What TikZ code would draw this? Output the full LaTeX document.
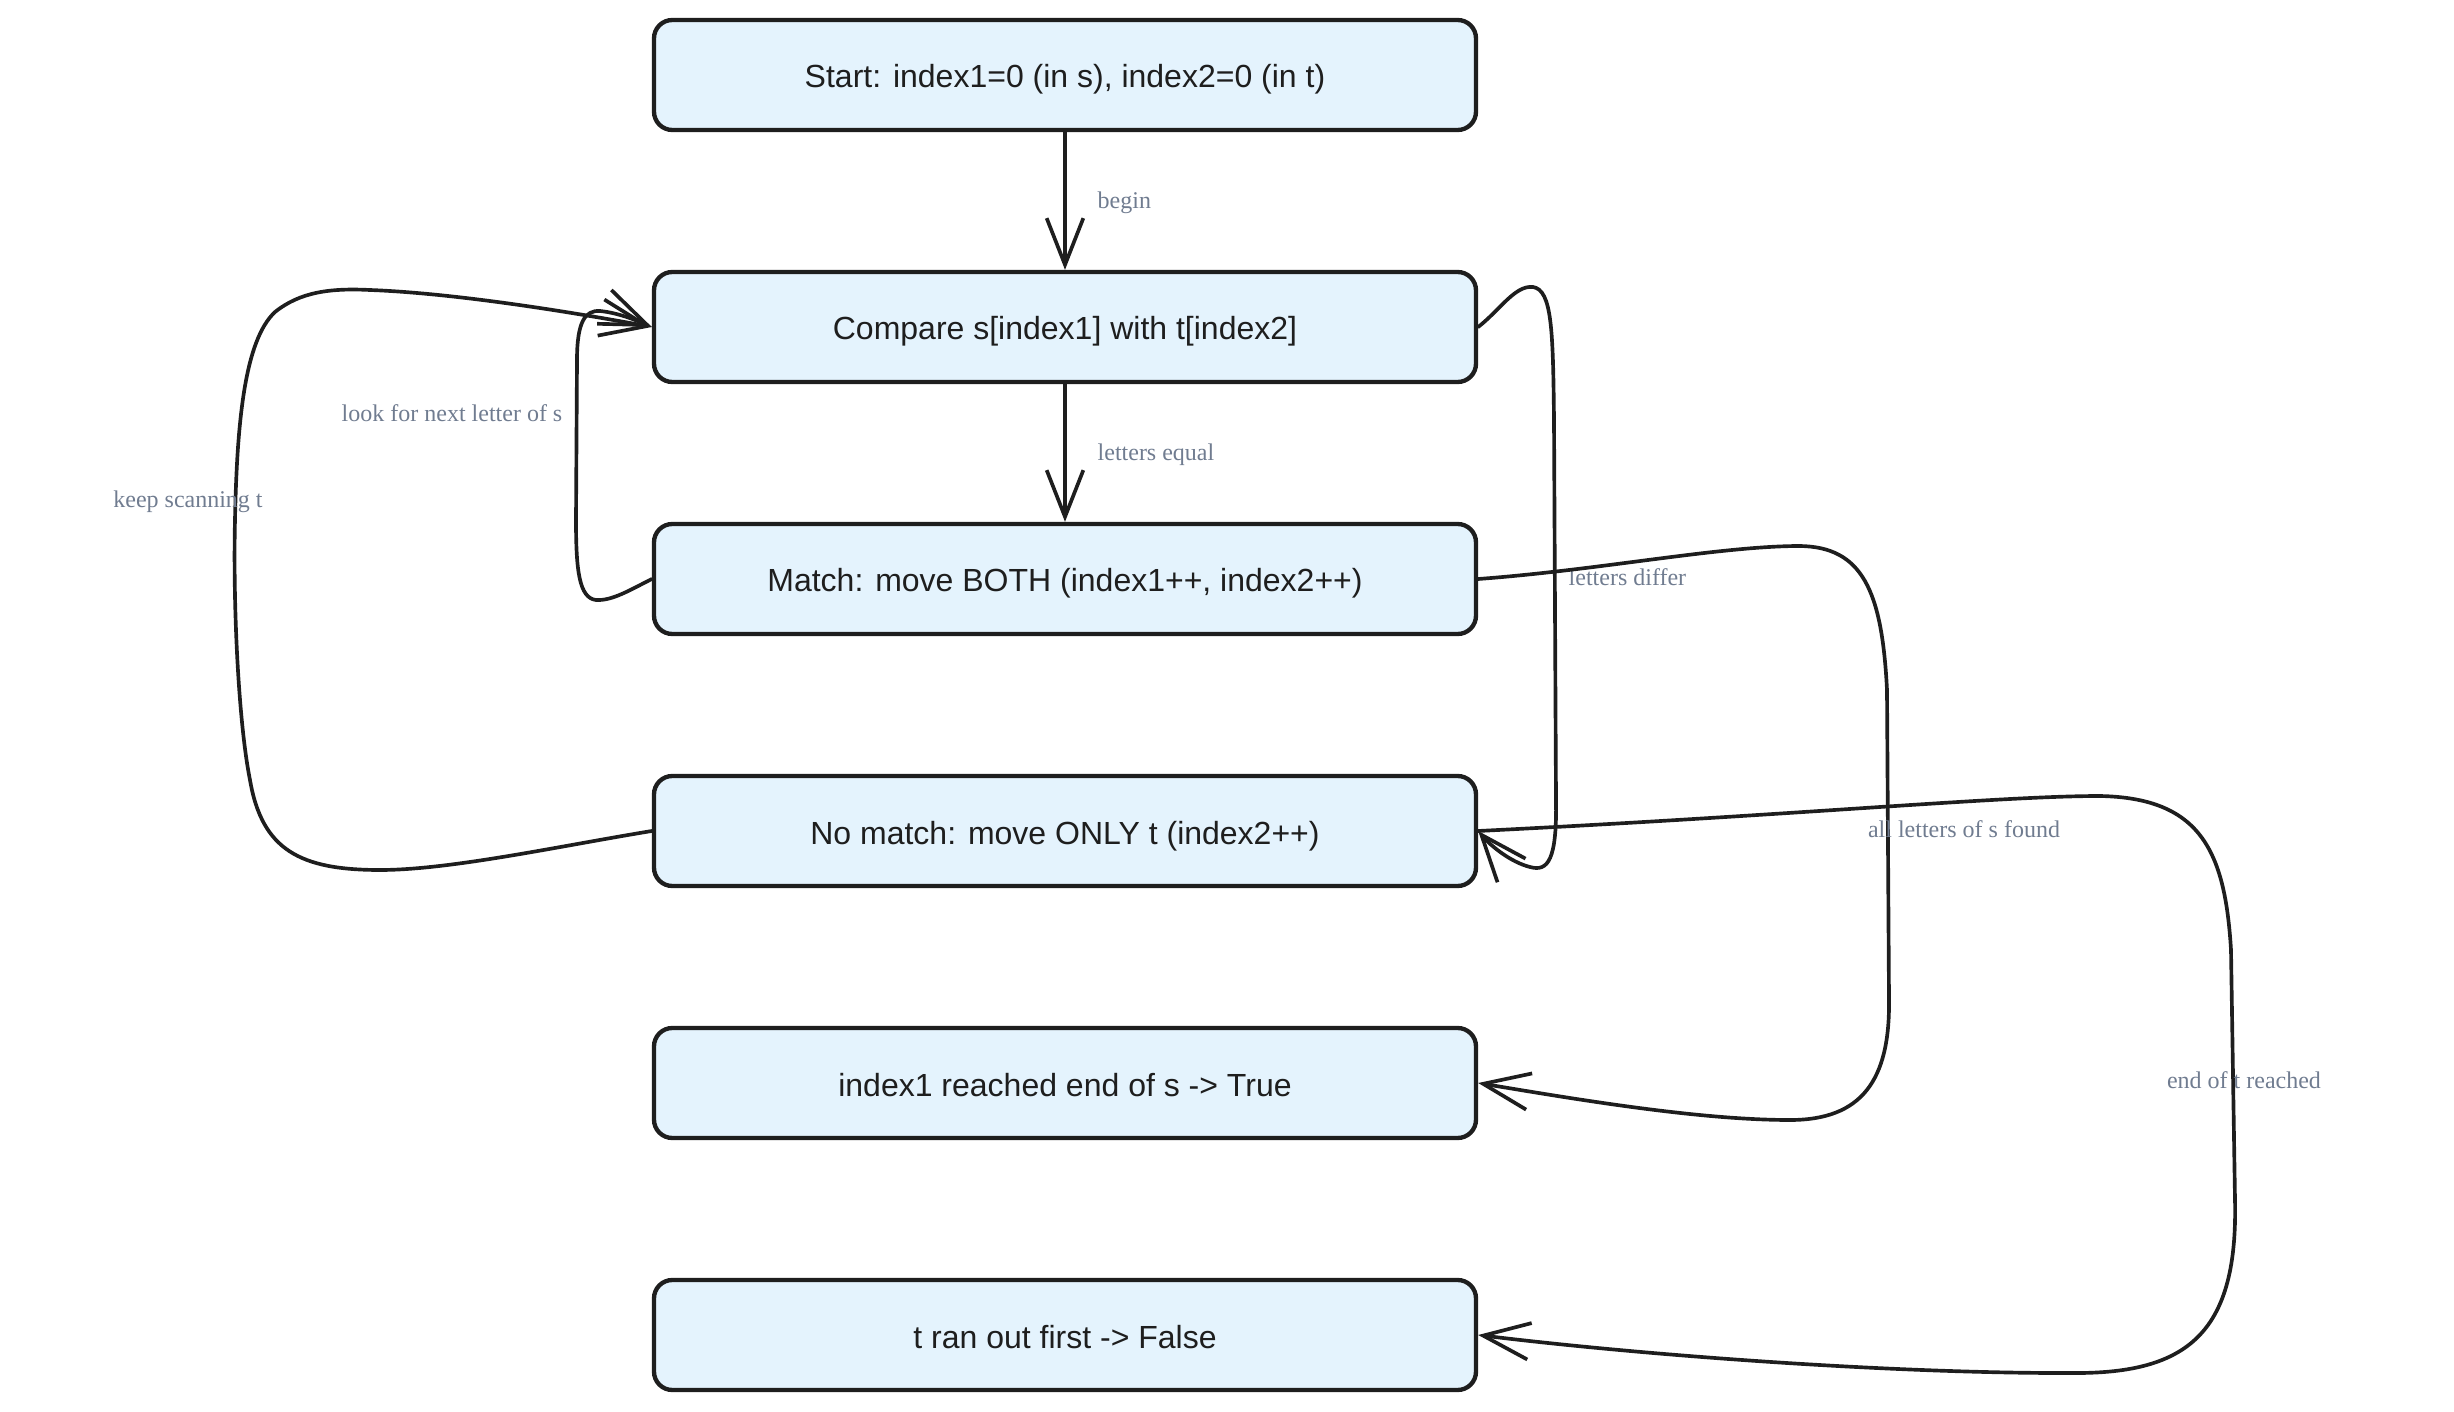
\documentclass[tikz,border=0pt]{standalone}
\usepackage{fontspec}
\setmainfont{Liberation Sans}
\newfontfamily\lblfont{Liberation Serif}
\usetikzlibrary{arrows.meta}
\definecolor{boxfill}{RGB}{228,243,253}
\definecolor{ink}{RGB}{30,30,30}
\definecolor{lblgray}{RGB}{112,124,144}
\tikzset{
  stepbox/.style={draw=ink, fill=boxfill, line width=1.3pt, rounded corners=5.5pt,
    minimum width=246.6pt, minimum height=33pt, inner sep=0pt,
    text height=7.8pt, text depth=0pt,
    font=\fontsize{9.6}{11}\selectfont, text=ink},
  conn/.style={draw=ink, line width=1.1pt, line cap=round, line join=round,
    -{Straight Barb[length=14pt,width=11pt,line width=1.1pt]}},
  lbl/.style={font=\lblfont\fontsize{7.2}{8.5}\selectfont, text=lblgray, inner sep=0pt}
}
\begin{document}
\begin{tikzpicture}[x=0.3pt,y=-0.3pt]
\useasboundingbox (0,0) rectangle (2454,1412);
\node[stepbox] (b1) at (1065,75) {Start: index1=0 (in s), index2=0 (in t)};
\node[stepbox] (b2) at (1065,327) {Compare s[index1] with t[index2]};
\node[stepbox] (b3) at (1065,579) {Match: move BOTH (index1++, index2++)};
\node[stepbox] (b4) at (1065,831) {No match: move ONLY t (index2++)};
\node[stepbox] (b5) at (1065,1083) {index1 reached end of s -> True};
\node[stepbox] (b6) at (1065,1335) {t ran out first -> False};

% begin
\draw[conn] (b1) -- (b2);
\node[lbl, anchor=west] (lbegin) at (1097,203) {begin};
% letters equal
\draw[conn] (b2) -- (b3);
\node[lbl, anchor=west] (lequal) at (1097,455) {letters equal};
% letters differ
\draw[conn] (b2.east) .. controls (1500,310) and (1515,285) .. (1533,287)
  .. controls (1552,290) and (1553,330) .. (1554,420) -- (1556,800)
  .. controls (1557,860) and (1548,872) .. (1530,867)
  .. controls (1510,862) and (1490,845) .. (b4.east);
\node[lbl, anchor=west] (ldiffer) at (1568,577) {letters differ};
% look for next letter of s
\draw[conn] (b3.west) .. controls (630,590) and (612,601) .. (596,600)
  .. controls (579,598) and (576,570) .. (576,520) -- (577,360)
  .. controls (577,322) and (585,310) .. (600,311)
  .. controls (620,313) and (640,322) .. (b2.west);
\node[lbl] (lnext) at (452,413) {look for next letter of s};
% keep scanning t
\draw[conn] (b4.west) .. controls (560,846) and (450,870) .. (380,870)
  .. controls (300,870) and (262,850) .. (250,780)
  .. controls (238,720) and (233,600) .. (235,520)
  .. controls (237,420) and (245,340) .. (275,312)
  .. controls (300,292) and (330,288) .. (370,290)
  .. controls (450,293) and (560,310) .. (b2.west);
\node[lbl] (lkeep) at (188,502) {keep scanning t};
% all letters of s found
\draw[conn] (b3.east) .. controls (1600,570) and (1720,546) .. (1800,546)
  .. controls (1862,547) and (1882,590) .. (1887,690) -- (1889,1000)
  .. controls (1890,1080) and (1862,1120) .. (1790,1120)
  .. controls (1700,1120) and (1580,1100) .. (b5.east);
\node[lbl] (lfound) at (1964,829) {all letters of s found};
% end of t reached
\draw[conn] (b4.east) .. controls (1800,815) and (2000,796) .. (2100,796)
  .. controls (2200,798) and (2225,850) .. (2231,950) -- (2235,1200)
  .. controls (2238,1330) and (2190,1372) .. (2080,1373)
  .. controls (1900,1374) and (1650,1356) .. (b6.east);
\node[lbl] (lend) at (2244,1080) {end of t reached};
\end{tikzpicture}
\end{document}
